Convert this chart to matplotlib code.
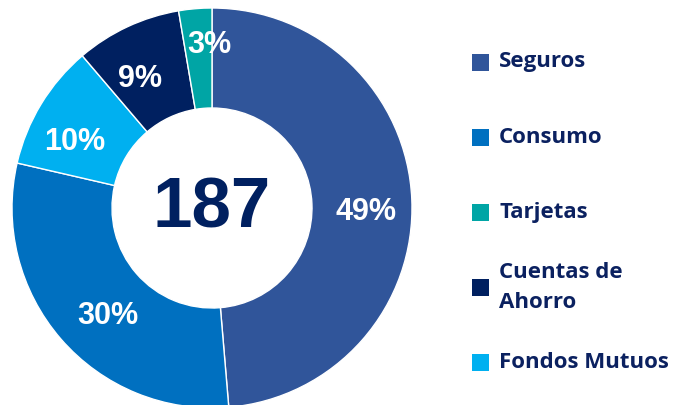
import matplotlib.pyplot as plt
from matplotlib.patches import Rectangle

# datos (en orden del grafico, horario desde arriba)
categorias = ["Seguros", "Consumo", "Fondos Mutuos", "Cuentas de\nAhorro", "Tarjetas"]
cantidades = [91, 56, 19, 16, 5]
colores = ["#30559A", "#0070C0", "#00B0F0", "#002060", "#00A5A5"]
total = 187

# orden de la leyenda
leyenda = ["Seguros", "Consumo", "Tarjetas", "Cuentas de\nAhorro", "Fondos Mutuos"]

# pequeños ajustes de posicion de las etiquetas (px)
ajustes = [(2, 10), (11, 8), (-7, 13), (-8, 9), (10, -12)]

fig = plt.figure(figsize=(6.74, 4.05), dpi=100)
fig.patch.set_facecolor("white")

ax = fig.add_axes([12/674, -3/405, 400/674, 400/405])
wedges, texts, autotexts = ax.pie(cantidades, colors=colores, startangle=90, counterclock=False,
                                  autopct="%.0f%%", pctdistance=0.76,
                                  wedgeprops=dict(width=0.5, edgecolor="white", linewidth=1))
for t, (dx, dy) in zip(autotexts, ajustes):
    x, y = t.get_position()
    t.set_position((x + dx/200, y - dy/200))
    t.set_color("white")
    t.set_fontsize(22)
    t.set_fontweight("bold")
    t.set_family("Liberation Sans")
ax.set_xlim(-1, 1)
ax.set_ylim(-1, 1)
ax.set_aspect("equal")

ax.text(0, -0.01, str(total), ha="center", va="center", fontsize=51, fontweight="bold",
        color="#002060", family="Liberation Sans")

# leyenda manual
y0 = 405 - 62
for i, nombre in enumerate(leyenda):
    c = colores[categorias.index(nombre)]
    yc = (y0 - i * 75.2) / 405
    fig.add_artist(Rectangle((472/674, yc - 8.5/405), 17/674, 17/405, transform=fig.transFigure,
                             facecolor=c, edgecolor="none"))
    fig.text(499/674, yc, nombre, ha="left", va="center", fontsize=16, fontweight="bold",
             color="#0B2160", family="Open Sans", linespacing=1.6)

fig.savefig("out.png", dpi=100)
